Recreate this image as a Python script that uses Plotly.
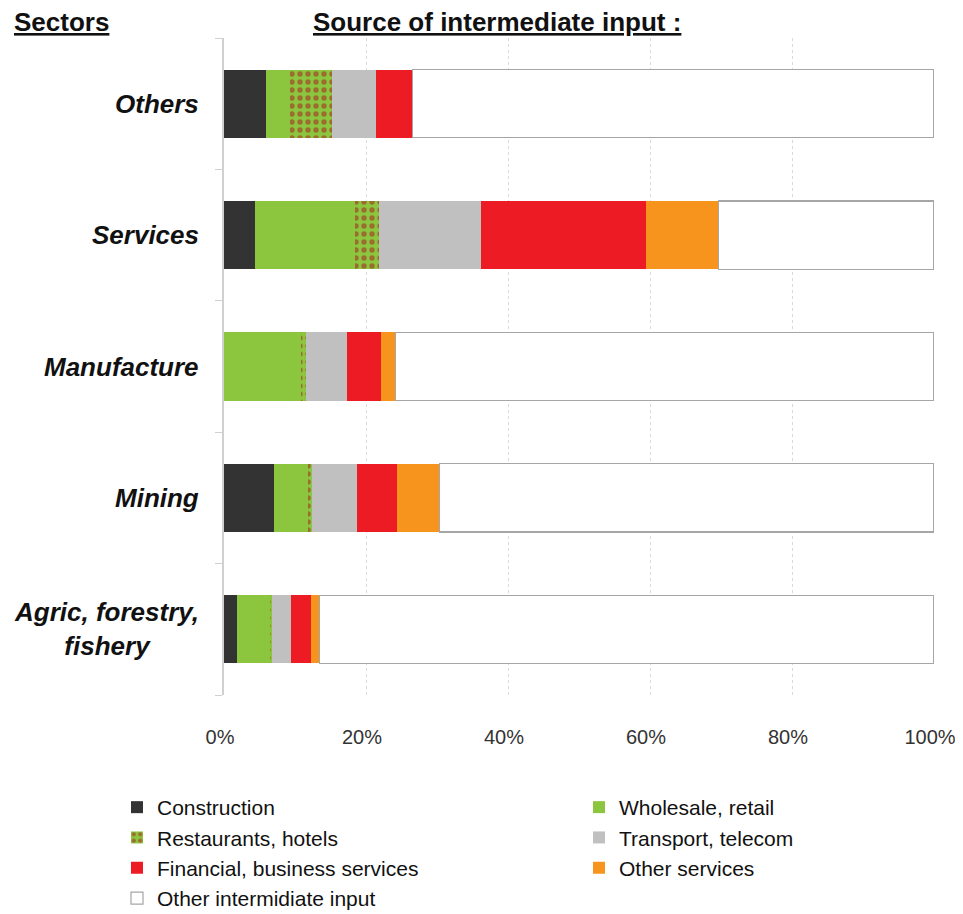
import plotly.graph_objects as go

sectors = ["Agric, forestry,<br>fishery", "Mining", "Manufacture", "Services", "Others"]
sector_keys = ["Agric", "Mining", "Manufacture", "Services", "Others"]

construction = [1.8, 7.1, 0.0, 4.4, 5.9]
wholesale = [4.8, 4.7, 10.9, 14.1, 3.4]
restaurants = [0.2, 0.6, 0.7, 3.3, 5.9]
transport = [2.6, 6.4, 5.7, 14.4, 6.2]
financial = [2.8, 5.6, 4.8, 23.2, 5.2]
other_services = [1.2, 5.9, 2.0, 10.2, 0.0]
other_input = [86.6, 69.7, 75.9, 30.4, 73.4]

series_names = ["Construction", "Wholesale, retail", "Restaurants, hotels",
                "Transport, telecom", "Financial, business services",
                "Other services", "Other intermidiate input"]
series_values = [construction, wholesale, restaurants, transport,
                 financial, other_services, other_input]
legend_column = ["legend", "legend2", "legend", "legend2", "legend", "legend2", "legend"]
x_ticks = [0, 20, 40, 60, 80, 100]
x_tick_text = ["0%", "20%", "40%", "60%", "80%", "100%"]

FONT = "Liberation Sans, Arial, sans-serif"

# the page body adds an 8px offset; figure sized to fit the window
OFF = 8
W, H = 963 - OFF, 914 - OFF
ML, MR, MT, MB = 224 - OFF, 29, 38 - OFF, 0
PW, PH = W - ML - MR, H - MT - MB


def px(sx):
    return (sx - OFF - ML) / PW


def py(sy):
    return (H - MB - (sy - OFF)) / PH


styles = [
    dict(color="#333333"),
    dict(color="#8CC63F"),
    dict(color="#8CC63F", pattern=dict(shape=".", fgcolor="#A8141E", fillmode="overlay", size=8, solidity=0.35)),
    dict(color="#C0C0C0"),
    dict(color="#ED1C24"),
    dict(color="#F7941D"),
    dict(color="#FFFFFF", line=dict(color="#A6A6A6", width=1.2)),
]

fig = go.Figure()
for name, vals, st, lg in zip(series_names, series_values, styles, legend_column):
    marker = dict(color=st["color"])
    if "pattern" in st:
        marker["pattern"] = st["pattern"]
    marker["line"] = st.get("line", dict(width=0))
    fig.add_trace(go.Bar(
        y=sector_keys, x=vals, name=name, orientation="h",
        marker=marker, hoverinfo="x+name", legend=lg,
    ))

legend_common = dict(
    orientation="v", xanchor="left", yanchor="top", traceorder="normal",
    font=dict(size=21, color="#111111", family=FONT),
    itemwidth=30, tracegroupgap=0, bgcolor="rgba(0,0,0,0)",
)

fig.update_layout(
    barmode="stack",
    bargap=0.48,
    width=W, height=H,
    margin=dict(l=ML, r=MR, t=MT, b=MB, autoexpand=False),
    plot_bgcolor="white", paper_bgcolor="white",
    font=dict(family=FONT, color="#111111"),
    xaxis=dict(
        range=[0, 100], tickvals=x_ticks, ticktext=x_tick_text,
        showgrid=True, gridcolor="#DADADA", griddash="dot", gridwidth=1,
        zeroline=False, showline=False, ticks="",
        tickfont=dict(size=20, color="#333333", family=FONT),
        ticklabelstandoff=28, ticklabelshift=-4, fixedrange=True, automargin=False,
    ),
    yaxis=dict(
        domain=[py(695), 1],
        type="category", categoryorder="array", categoryarray=sector_keys,
        showticklabels=False, showline=True, linecolor="#D0D0D0", linewidth=1.5,
        ticks="outside", tickson="boundaries", ticklen=7, tickcolor="#D0D0D0",
        showgrid=False, fixedrange=True, automargin=False,
    ),
    legend=dict(x=px(117), y=py(787), **legend_common),
    legend2=dict(x=px(579), y=py(787), **legend_common),
    showlegend=True,
)

for key, label in zip(sector_keys, sectors):
    fig.add_annotation(
        x=px(201), xref="paper", y=key, yref="y", text="<b><i>" + label + "</i></b>",
        xanchor="right", yanchor="middle", align="center", showarrow=False,
        font=dict(size=26, color="#111111", family=FONT),
    )

fig.add_annotation(
    x=px(12), xref="paper", y=py(22), yref="paper",
    text="<b><u>Sectors</u></b>", xanchor="left", yanchor="middle", showarrow=False,
    font=dict(size=26, color="#111111", family=FONT),
)
fig.add_annotation(
    x=px(311), xref="paper", y=py(22), yref="paper",
    text="<b><u>Source of intermediate input :</u></b>", xanchor="left", yanchor="middle",
    showarrow=False, font=dict(size=26, color="#111111", family=FONT),
)

fig.write_html("out.html")
